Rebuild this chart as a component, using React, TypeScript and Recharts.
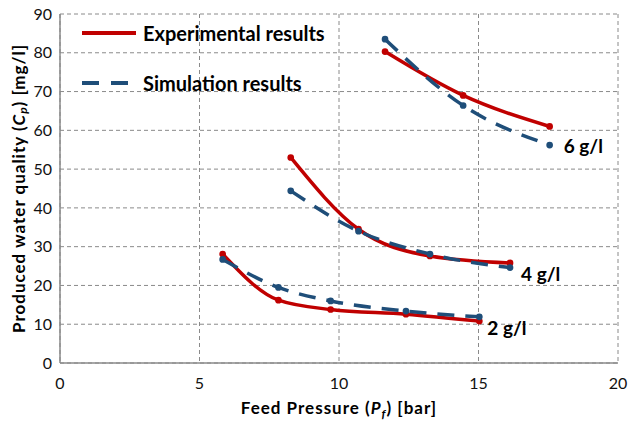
import React from 'react';
import { LineChart, Line, XAxis, YAxis, CartesianGrid, LabelList } from 'recharts';

// Feed pressure [bar] at each measured point, per feed concentration
const pressure2 = [5.83, 7.83, 9.7, 12.4, 15.03];
const pressure4 = [8.27, 10.7, 13.26, 16.13];
const pressure6 = [11.65, 14.45, 17.55];

// Permeate concentration [mg/l]
const exp2 = [28.1, 16.2, 13.8, 12.6, 10.8];
const sim2 = [26.7, 19.5, 16.0, 13.4, 11.9];
const exp4 = [53.0, 34.5, 27.6, 25.8];
const sim4 = [44.4, 34.0, 28.1, 24.6];
const exp6 = [80.3, 69.0, 61.0];
const sim6 = [83.5, 66.4, 56.2];

const xTicks = [0, 5, 10, 15, 20];
const yTicks = [0, 10, 20, 30, 40, 50, 60, 70, 80, 90];
const feedLabels = ['2 g/l', '4 g/l', '6 g/l'];

const RED = '#C00000';
const BLUE = '#1F4E79';
const GRID = '#8a8a8a';
const FONT = 'Lato, "Open Sans", sans-serif';
const SIM_DASH = '17 11';

const toPoints = (xs: number[], ys: number[]) => xs.map((x, i) => ({ x, y: ys[i] }));

// label offsets next to the end of each simulated curve
const labelOffsets = [
  { dx: 8, dy: 11 },
  { dx: 11, dy: 6 },
  { dx: 14, dy: 0 },
];

const endLabel = (idx: number, count: number) => (props: any) => {
  const { x, y, index } = props;
  if (index !== count - 1) return null;
  const off = labelOffsets[idx];
  return (
    <text
      x={x + off.dx}
      y={y + off.dy}
      dominantBaseline="central"
      fontFamily={FONT}
      fontWeight={700}
      fontSize={19}
      fill="#000"
    >
      {feedLabels[idx]}
    </text>
  );
};

const XTitle = (props: any) => {
  const vb = props.viewBox || {};
  const cx = (vb.x ?? 60) + (vb.width ?? 558) / 2;
  return (
    <text x={cx} y={414} textAnchor="middle" fontFamily={FONT} fontWeight={700} fontSize={17} letterSpacing={1} fill="#000">
      Feed Pressure (<tspan fontStyle="italic">P</tspan>
      <tspan fontStyle="italic" fontSize={12} dy={4}>f</tspan>
      <tspan dy={-4}>) [bar]</tspan>
    </text>
  );
};

const YTitle = (props: any) => {
  const vb = props.viewBox || {};
  const cy = (vb.y ?? 14) + (vb.height ?? 349) / 2;
  return (
    <text
      x={18}
      y={cy}
      transform={`rotate(-90, 18, ${cy})`}
      textAnchor="middle"
      dominantBaseline="central"
      fontFamily={FONT}
      fontWeight={700}
      fontSize={17}
      letterSpacing={1}
      fill="#000"
    >
      Produced water quality (<tspan fontStyle="italic">C</tspan>
      <tspan fontStyle="italic" fontSize={12} dy={4}>p</tspan>
      <tspan dy={-4}>) [mg/l]</tspan>
    </text>
  );
};

const series = [
  { key: 'exp2', data: toPoints(pressure2, exp2), color: RED, dash: undefined, label: -1 },
  { key: 'sim2', data: toPoints(pressure2, sim2), color: BLUE, dash: SIM_DASH, label: 0 },
  { key: 'exp4', data: toPoints(pressure4, exp4), color: RED, dash: undefined, label: -1 },
  { key: 'sim4', data: toPoints(pressure4, sim4), color: BLUE, dash: SIM_DASH, label: 1 },
  { key: 'exp6', data: toPoints(pressure6, exp6), color: RED, dash: undefined, label: -1 },
  { key: 'sim6', data: toPoints(pressure6, sim6), color: BLUE, dash: SIM_DASH, label: 2 },
];

const legendRows = [
  { name: 'Experimental results', color: RED, dash: undefined },
  { name: 'Simulation results', color: BLUE, dash: '17 12' },
];

export default function App() {
  return (
    <div style={{ position: 'absolute', left: 0, top: 0, width: 628, height: 423, background: '#fff' }}>
      <LineChart width={628} height={423} margin={{ top: 14, right: 10, bottom: 0, left: 0 }}>
        <CartesianGrid stroke={GRID} strokeDasharray="4 3" strokeWidth={1} />
        <XAxis
          type="number"
          dataKey="x"
          domain={[0, 20]}
          ticks={xTicks}
          height={60}
          tickLine={false}
          tickSize={0}
          tickMargin={15}
          axisLine={{ stroke: GRID, strokeWidth: 1.5 }}
          tick={{ fill: '#111', fontSize: 16, fontFamily: FONT }}
          label={{ content: XTitle }}
        />
        <YAxis
          type="number"
          dataKey="y"
          domain={[0, 90]}
          ticks={yTicks}
          width={60}
          tickLine={false}
          tickSize={0}
          tickMargin={8}
          axisLine={{ stroke: GRID, strokeWidth: 1.5 }}
          tick={{ fill: '#111', fontSize: 16, fontFamily: FONT }}
          label={{ content: YTitle }}
        />
        {series.map((s) => (
          <Line
            key={s.key}
            data={s.data}
            dataKey="y"
            type="monotone"
            stroke={s.color}
            strokeWidth={3.5}
            strokeDasharray={s.dash}
            dot={{ r: 1.6, fill: s.color, stroke: s.color, strokeDasharray: '' }}
            activeDot={false}
            isAnimationActive={false}
          >
            {s.label >= 0 && <LabelList dataKey="y" content={endLabel(s.label, s.data.length)} />}
          </Line>
        ))}
      </LineChart>
      <div style={{ position: 'absolute', left: 80, top: 18, fontFamily: FONT }}>
        {legendRows.map((r, i) => (
          <div key={r.name} style={{ display: 'flex', alignItems: 'center', height: 30, marginBottom: i === 0 ? 20 : 0 }}>
            <svg width={60} height={10}>
              <line x1={2} y1={5} x2={56} y2={5} stroke={r.color} strokeWidth={4} strokeDasharray={r.dash} />
            </svg>
            <span style={{ marginLeft: 3, fontSize: 20, fontWeight: 700, color: '#000', whiteSpace: 'nowrap' }}>{r.name}</span>
          </div>
        ))}
      </div>
    </div>
  );
}
